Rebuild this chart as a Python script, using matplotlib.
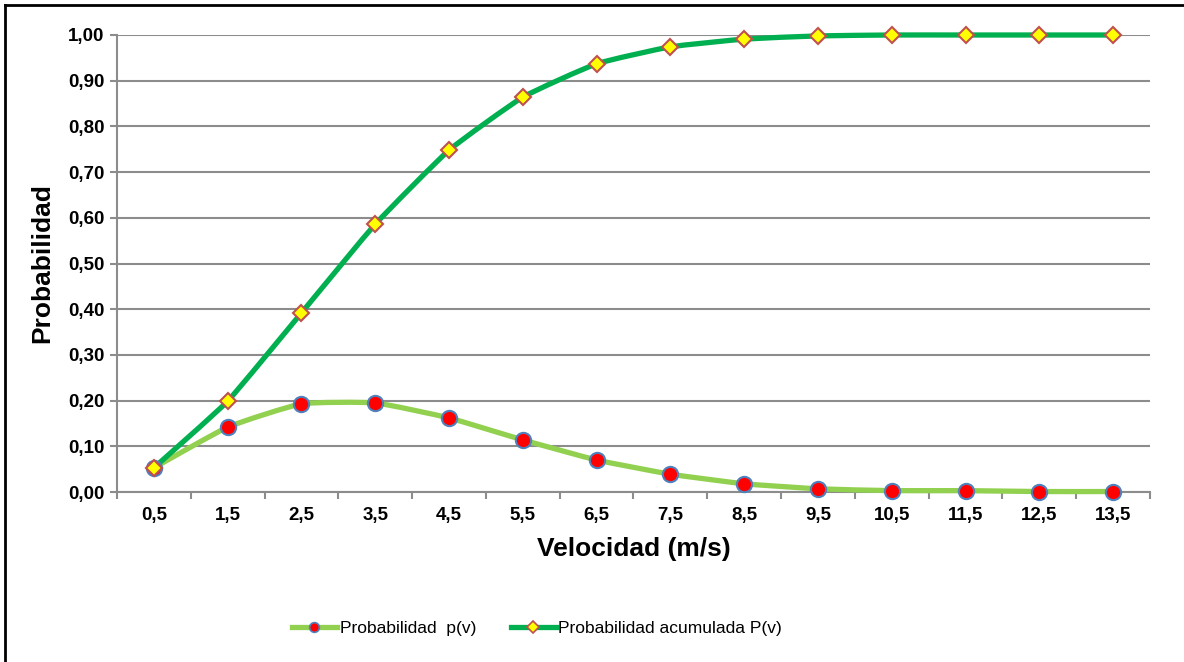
import numpy as np
import matplotlib
matplotlib.use("Agg")
import matplotlib.pyplot as plt
from matplotlib.path import Path
from matplotlib.patches import PathPatch
from matplotlib.lines import Line2D

# Wind-speed classes (m/s) and their probabilities
velocidades = ["0,5", "1,5", "2,5", "3,5", "4,5", "5,5", "6,5",
               "7,5", "8,5", "9,5", "10,5", "11,5", "12,5", "13,5"]
prob_pv = [0.053, 0.142, 0.193, 0.195, 0.162, 0.114, 0.070,
           0.039, 0.018, 0.007, 0.003, 0.003, 0.001, 0.001]
prob_acum = [0.053, 0.199, 0.392, 0.586, 0.748, 0.864, 0.937,
             0.974, 0.991, 0.998, 1.000, 1.000, 1.000, 1.000]
y_ticks = [0.0, 0.1, 0.2, 0.3, 0.4, 0.5, 0.6, 0.7, 0.8, 0.9, 1.0]

plt.rcParams["font.family"] = ["Liberation Sans", "DejaVu Sans"]

C_PV = "#92D050"
C_ACUM = "#00B050"
GRID = "#8C8C8C"
LW = 3.8


def smooth_path(x, y, tension=1 / 14):
    """Lightly smoothed path through the data points (cubic Bezier segments)."""
    pts = np.column_stack([np.asarray(x, float), np.asarray(y, float)])
    verts = [pts[0]]
    codes = [Path.MOVETO]
    n = len(pts)
    for i in range(n - 1):
        p0 = pts[i - 1] if i > 0 else pts[i]
        p1 = pts[i]
        p2 = pts[i + 1]
        p3 = pts[i + 2] if i + 2 < n else pts[i + 1]
        verts += [p1 + (p2 - p0) * tension, p2 - (p3 - p1) * tension, p2]
        codes += [Path.CURVE4] * 3
    return Path(verts, codes)


fig = plt.figure(figsize=(11.84, 6.62), dpi=100)
ax = fig.add_axes([117 / 1184, 1 - 492 / 662, (1150 - 117) / 1184, (492 - 35) / 662])

x = np.arange(len(velocidades))

for vals, col in [(prob_pv, C_PV), (prob_acum, C_ACUM)]:
    patch = PathPatch(smooth_path(x, vals), facecolor="none", edgecolor=col,
                      lw=LW, capstyle="round", joinstyle="round", zorder=3,
                      clip_on=False)
    ax.add_patch(patch)

ax.plot(x, prob_pv, ls="none", marker="o", ms=11, mfc="#FF0000",
        mec="#4F81BD", mew=1.5, zorder=5, clip_on=False)
ax.plot(x, prob_acum, ls="none", marker="D", ms=8.5, mfc="#FFFF00",
        mec="#C0504D", mew=1.5, zorder=6, clip_on=False)

ax.set_xlim(-0.5, len(velocidades) - 0.5)
ax.set_ylim(0, 1.0)
ax.set_yticks(y_ticks)
ax.set_yticklabels([f"{v:.2f}".replace(".", ",") for v in y_ticks],
                   fontsize=13.5, fontweight="bold")
ax.set_xticks(x)
ax.set_xticklabels(velocidades, fontsize=13.5, fontweight="bold")
ax.set_xticks(np.arange(-0.5, len(velocidades), 1.0), minor=True)
ax.tick_params(axis="x", which="major", length=0, pad=11)
ax.tick_params(axis="x", which="minor", length=5, width=1.5, color=GRID)
ax.tick_params(axis="y", length=5, width=1.5, color=GRID, pad=4)

ax.grid(axis="y", color=GRID, lw=1.5, zorder=0)
ax.set_axisbelow(True)
for side in ["top", "right"]:
    ax.spines[side].set_visible(False)
for side in ["left", "bottom"]:
    ax.spines[side].set_color(GRID)
    ax.spines[side].set_linewidth(1.5)

ax.set_xlabel("Velocidad (m/s)", fontsize=19, fontweight="bold", labelpad=9)
ax.set_ylabel("Probabilidad", fontsize=19, fontweight="bold", labelpad=10)

handles = [
    Line2D([], [], color=C_PV, lw=LW, marker="o", ms=7, mfc="#FF0000",
           mec="#4F81BD", mew=1.2),
    Line2D([], [], color=C_ACUM, lw=LW, marker="D", ms=6, mfc="#FFFF00",
           mec="#C0504D", mew=1.2),
]
fig.legend(handles, ["Probabilidad  p(v)", "Probabilidad acumulada P(v)"],
           loc="center", bbox_to_anchor=(537 / 1184, 1 - 628 / 662), ncol=2,
           frameon=False, fontsize=12.5, handlelength=2.6, handletextpad=0.15,
           columnspacing=2.0)

# Outer frame (top and left edges)
fig.add_artist(Line2D([5 / 1184, 5 / 1184], [0, 1 - 5 / 662],
                      transform=fig.transFigure, color="black", lw=2))
fig.add_artist(Line2D([5 / 1184, 1], [1 - 5 / 662, 1 - 5 / 662],
                      transform=fig.transFigure, color="black", lw=2))

fig.savefig("out.png", dpi=100, facecolor="white")
